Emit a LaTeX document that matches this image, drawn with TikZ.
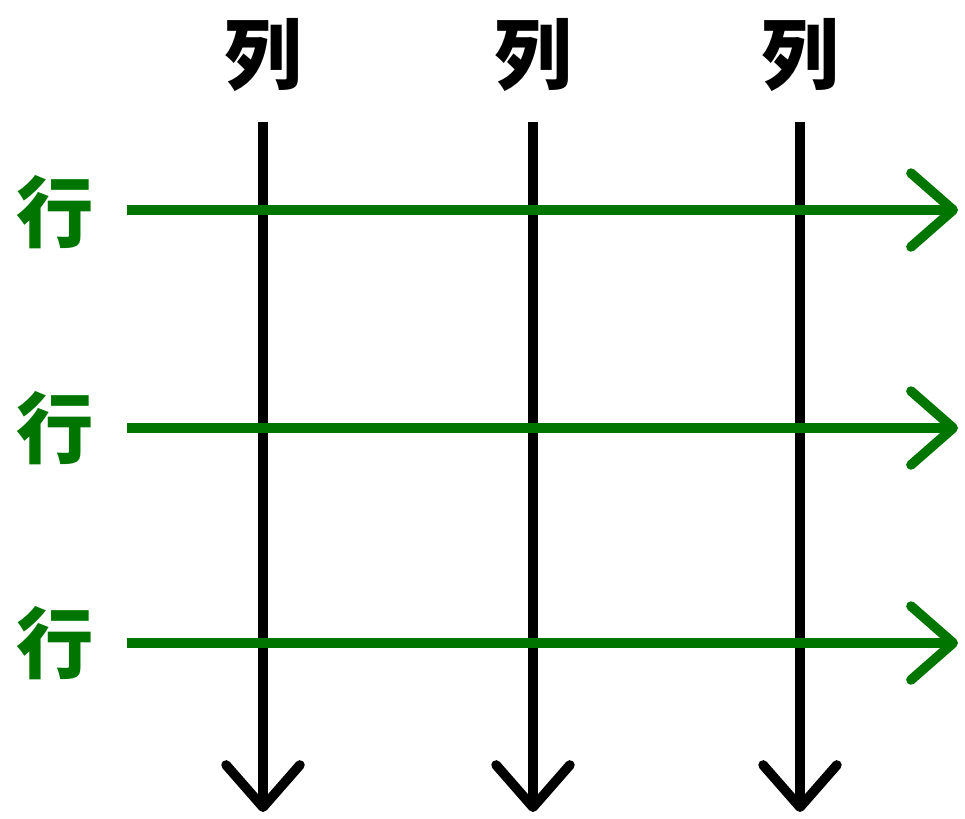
\documentclass[tikz,border=0pt]{standalone}
\usepackage{fontspec}
\newfontfamily\cjk{Noto Sans CJK SC}
\usetikzlibrary{arrows.meta,positioning}
\definecolor{rowgreen}{RGB}{0,118,0}

\begin{document}
\begin{tikzpicture}[
  x=0.02cm, y=-0.02cm,
  lab/.style     ={font=\cjk\bfseries\fontsize{44}{48}\selectfont, inner sep=0pt},
  collab/.style  ={lab, text=black},
  rowlab/.style  ={lab, text=rowgreen},
  tip/.style     ={-{Straight Barb[length=24pt, width=42pt, line width=5.5pt, round]}},
  colline/.style ={tip, line width=5.5pt, black},
  rowline/.style ={tip, line width=5.5pt, rowgreen}
]
\useasboundingbox (0,0) rectangle (965,819);

%%% ---- COLUMNS (black, top to bottom) ----------------------------------
\node[collab] (col1) at (263,55) {列};
\node[collab] (col2) at (533,55) {列};
\node[collab] (col3) at (800,55) {列};

\coordinate (ctop1) at (263,122);  \coordinate (cbot1) at (263,812);
\coordinate (ctop2) at (533,122);  \coordinate (cbot2) at (533,812);
\coordinate (ctop3) at (800,122);  \coordinate (cbot3) at (800,812);

\draw[colline] (ctop1) -- (cbot1);
\draw[colline] (ctop2) -- (cbot2);
\draw[colline] (ctop3) -- (cbot3);

%%% ---- ROWS (green, left to right) -------------------------------------
\node[rowlab] (row1) at (55,212) {行};
\node[rowlab] (row2) at (55,428) {行};
\node[rowlab] (row3) at (55,643) {行};

\coordinate (rbeg1) at (127,210);  \coordinate (rend1) at (958,210);
\coordinate (rbeg2) at (127,428);  \coordinate (rend2) at (958,428);
\coordinate (rbeg3) at (127,643);  \coordinate (rend3) at (958,643);

\draw[rowline] (rbeg1) -- (rend1);
\draw[rowline] (rbeg2) -- (rend2);
\draw[rowline] (rbeg3) -- (rend3);

\end{tikzpicture}
\end{document}
